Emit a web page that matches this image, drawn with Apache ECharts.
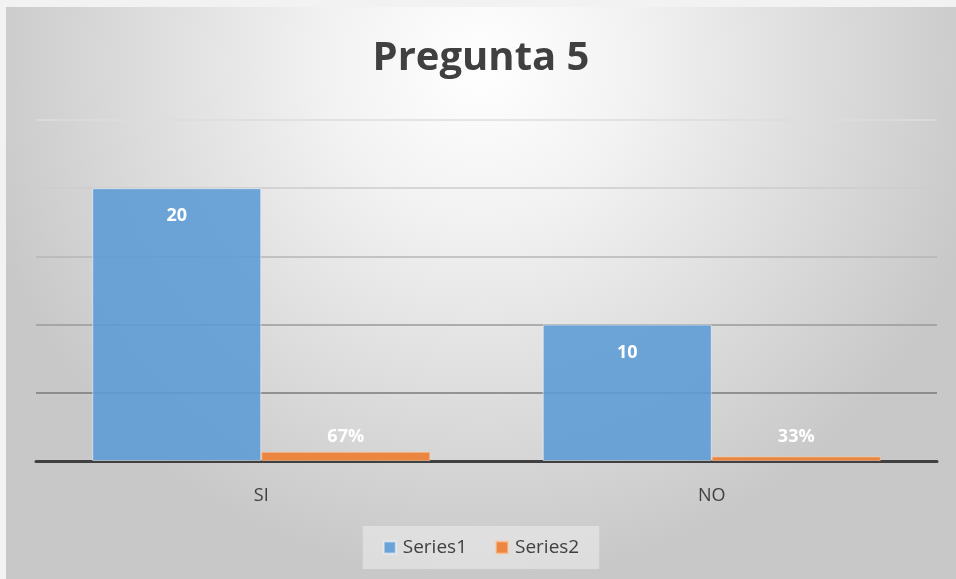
<!DOCTYPE html>
<html><head><meta charset="utf-8">
<script src="https://cdn.jsdelivr.net/npm/echarts@6/dist/echarts.min.js"></script>
<style>
html,body{margin:0;padding:0;background:#f2f2f2;}
#c{position:absolute;left:6px;top:7px;width:950px;height:572px;}
</style></head>
<body><div id="c"></div>
<script>
const categories = ['SI', 'NO'];
const series1 = [20, 10];
const series2 = [0.67, 0.33];
const titleText = 'Pregunta 5';

const chart = echarts.init(document.getElementById('c'));
const font = "'Open Sans', 'Noto Sans', sans-serif";
chart.setOption({
  backgroundColor: {
    type: 'radial', x: 0.5, y: 0.1, r: 0.9,
    colorStops: [{offset: 0, color: '#ffffff'}, {offset: 0.3, color: '#f2f2f2'}, {offset: 1, color: '#c8c8c8'}]
  },
  title: {
    text: titleText, left: 'center', top: 27,
    textStyle: {fontFamily: font, fontWeight: 'bold', fontSize: 40, color: '#404040'}
  },
  legend: {
    bottom: 10, left: 'center',
    backgroundColor: 'rgba(235,235,235,0.6)',
    padding: [12, 20, 12, 20],
    itemWidth: 12, itemHeight: 12, itemGap: 28,
    icon: 'rect',
    textStyle: {fontFamily: font, fontSize: 19, color: '#404040', padding: [0, 0, 0, 2]}
  },
  grid: {left: 30, right: 19, top: 113, bottom: 118},
  xAxis: {
    type: 'category', data: categories,
    axisLine: {lineStyle: {color: '#404040', width: 3}},
    axisTick: {show: false},
    axisLabel: {fontFamily: font, fontSize: 18, color: '#404040', margin: 26}
  },
  yAxis: {
    type: 'value', min: 0, max: 25, interval: 5,
    axisLabel: {show: false},
    axisLine: {show: false}, axisTick: {show: false},
    splitLine: {lineStyle: {color: ['#404040', '#7a7a7a', '#9a9a9a', '#b6b6b6', '#cdcdcd', '#dcdcdc'], width: 1.5}}
  },
  series: [
    {
      name: 'Series1', type: 'bar', data: series1,
      barWidth: 169, barGap: '0%',
      itemStyle: {color: 'rgba(91,155,213,0.88)', borderColor: 'rgba(255,255,255,0.5)', borderWidth: 1},
      label: {show: true, position: 'insideTop', distance: 19,
        fontFamily: font, fontWeight: 'bold', fontSize: 18, color: '#ffffff'}
    },
    {
      name: 'Series2', type: 'bar', data: series2,
      barWidth: 169,
      itemStyle: {color: 'rgba(237,125,49,0.9)', borderColor: 'rgba(255,200,160,0.6)', borderWidth: 1},
      label: {show: true, position: 'insideBottom', distance: 15,
        formatter: p => Math.round(p.value * 100) + '%',
        fontFamily: font, fontWeight: 'bold', fontSize: 18, color: '#ffffff'}
    }
  ]
});
</script></body></html>
